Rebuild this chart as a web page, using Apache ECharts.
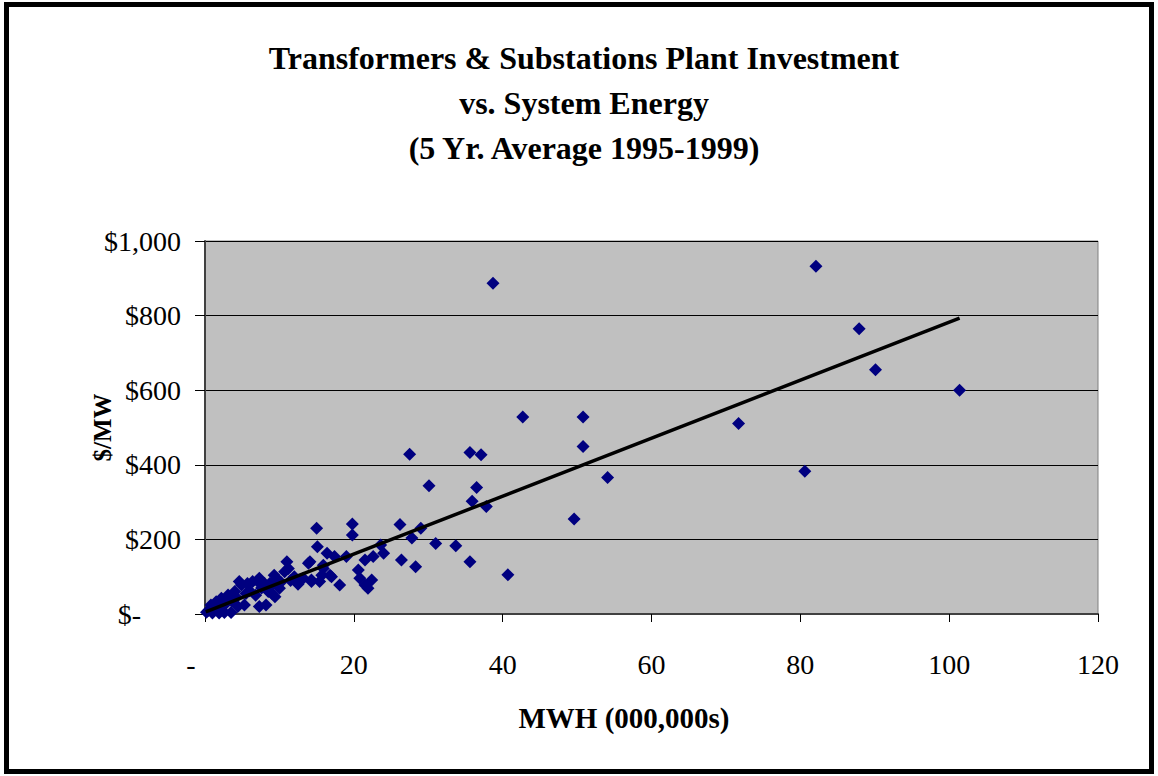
<!DOCTYPE html>
<html>
<head>
<meta charset="utf-8">
<script src="https://cdn.jsdelivr.net/npm/echarts@6/dist/echarts.min.js"></script>
<style>
    html, body { margin: 0; padding: 0; background: #fff; }
    #chart { width: 1158px; height: 776px; }
</style>
</head>
<body>
<div id="chart"></div>
<script>
    // MWH (000,000s) of each utility
    var energyX = [
        0.2, 0.5, 0.8, 1.0, 1.2, 1.5, 1.9, 2.0, 2.2, 2.6,
        2.8, 3.1, 3.5, 3.6, 4.0, 4.2, 4.4, 4.6, 4.9, 5.3,
        5.5, 5.7, 6.0, 6.4, 6.8, 7.1, 7.3, 7.3, 7.6, 8.0,
        8.2, 8.5, 8.7, 8.7, 9.0, 9.3, 9.4, 9.6, 10.0, 10.2,
        10.7, 11.0, 11.2, 11.5, 12.0, 12.5, 13.2, 13.9, 14.1, 14.3,
        14.3, 15.0, 15.1, 15.4, 15.7, 15.9, 15.9, 16.4, 16.8, 17.0,
        17.4, 18.1, 19.0, 19.8, 19.8, 20.6, 20.8, 21.5, 21.5, 21.9,
        22.4, 22.6, 23.6, 24.0, 26.2, 26.4, 27.5, 27.8, 28.3, 29.0,
        30.1, 31.0, 33.7, 35.6, 35.6, 35.9, 36.5, 37.1, 37.8, 38.7,
        40.7, 42.7, 49.6, 50.8, 50.8, 54.1, 71.7, 80.6, 82.1, 87.9,
        90.1, 101.4
    ]
    // $/MW plant investment
    var investY = [
        5, 10, 24, 3, 15, 33, 3, 20, 42, 4,
        28, 51, 4, 35, 60, 45, 20, 87, 78, 24,
        55, 82, 62, 87, 50, 87, 20, 96, 70, 82,
        24, 60, 73, 82, 55, 104, 46, 96, 69, 85,
        113, 140, 122, 90, 100, 80, 96, 136, 140, 87,
        91, 230, 180, 87, 104, 122, 131, 163, 104, 100,
        154, 78, 154, 241, 212, 118, 96, 145, 78, 69,
        91, 154, 185, 163, 240, 145, 428, 204, 127, 230,
        344, 189, 183, 433, 140, 302, 339, 427, 288, 887,
        105, 528, 255, 528, 449, 366, 511, 383, 932, 765,
        655, 600
    ]
    // linear trend line end points
    var trendX = [0.1, 101.4]
    var trendY = [6, 793]

    var points = energyX.map(function (x, i) { return [x, investY[i]] })
    var trend = trendX.map(function (x, i) { return [x, trendY[i]] })

    var font = '"Liberation Serif", "Times New Roman", serif'

    var chart = echarts.init(document.getElementById('chart'), null, { renderer: 'svg' })
    chart.setOption({
        animation: false,
        backgroundColor: '#fff',
        textStyle: { fontFamily: font },
        grid: {
            left: 205,
            right: 60,
            top: 241,
            bottom: 162,
            show: true,
            backgroundColor: '#c0c0c0',
            borderColor: '#808080',
            borderWidth: 1
        },
        graphic: [
            {
                type: 'rect',
                shape: { x: 6.5, y: 4.5, width: 1145, height: 767 },
                style: { fill: 'none', stroke: '#000', lineWidth: 5 },
                silent: true
            },
            {
                type: 'text',
                x: 584,
                y: 35,
                style: {
                    text: 'Transformers & Substations Plant Investment\nvs. System Energy\n(5 Yr. Average 1995-1999)',
                    fontFamily: font,
                    fontSize: 32,
                    fontWeight: 'bold',
                    lineHeight: 45,
                    textAlign: 'center',
                    fill: '#000'
                }
            },
            {
                type: 'text',
                x: 624,
                y: 703,
                style: {
                    text: 'MWH (000,000s)',
                    fontFamily: font,
                    fontSize: 29,
                    fontWeight: 'bold',
                    textAlign: 'center',
                    fill: '#000'
                }
            }
        ],
        xAxis: {
            type: 'value',
            min: 0,
            max: 120,
            interval: 20,
            axisLine: { show: true, onZero: false, lineStyle: { color: '#404040', width: 2 } },
            axisTick: { show: true, length: 8, lineStyle: { color: '#000' } },
            splitLine: { show: false },
            axisLabel: {
                margin: 36,
                fontFamily: font,
                fontSize: 28,
                color: '#000',
                formatter: function (v) {
                    return v === 0 ? '{z|-}' : String(v)
                },
                rich: { z: { fontFamily: font, fontSize: 28, color: '#000', padding: [0, 28, 0, 0] } }
            }
        },
        yAxis: {
            type: 'value',
            min: 0,
            max: 1000,
            interval: 200,
            name: '$/MW',
            nameLocation: 'middle',
            nameGap: 90,
            nameMoveOverlap: false,
            nameTextStyle: { fontFamily: font, fontSize: 25, fontWeight: 'bold', color: '#000' },
            axisLine: { show: true, lineStyle: { color: '#404040', width: 2 } },
            axisTick: { show: true, length: 10, lineStyle: { color: '#000' } },
            splitLine: { show: true, lineStyle: { color: '#000', width: 1 } },
            axisLabel: {
                margin: 24,
                fontFamily: font,
                fontSize: 28,
                color: '#000',
                formatter: function (v) {
                    if (v === 0) return '{z|$-}'
                    return '$' + v.toLocaleString('en-US')
                },
                rich: { z: { fontFamily: font, fontSize: 28, color: '#000', padding: [0, 40, 0, 0] } }
            }
        },
        series: [
            {
                name: 'Utilities',
                type: 'scatter',
                symbol: 'diamond',
                symbolSize: 13,
                itemStyle: { color: '#000080', opacity: 1 },
                data: points,
                z: 2
            },
            {
                name: 'Linear trend',
                type: 'line',
                symbol: 'none',
                lineStyle: { color: '#000', width: 3.5 },
                data: trend,
                z: 3
            }
        ]
    })
</script>
</body>
</html>
